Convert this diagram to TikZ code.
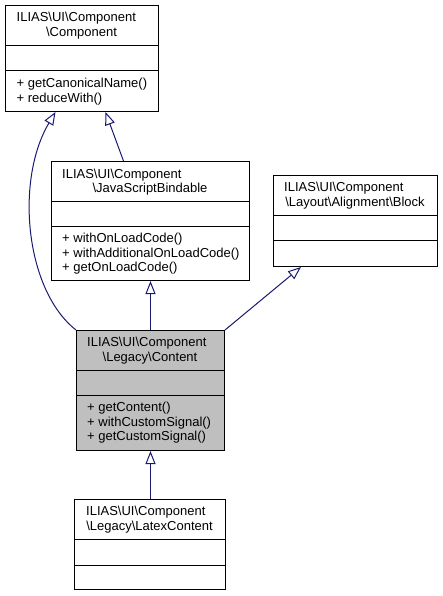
\documentclass[tikz,border=0pt]{standalone}
\usepackage{fontspec}
\setmainfont{Liberation Sans}
\usetikzlibrary{arrows.meta}
\definecolor{edgeblue}{HTML}{191970}
\definecolor{classgray}{HTML}{BFBFBF}
\newcommand{\ns}{\textbackslash}
\tikzset{
  classbox/.style={draw=black, line width=1pt, fill=white, anchor=north west, inner sep=0pt},
  current/.style={classbox, fill=classgray},
  divider/.style={draw=black, line width=1pt},
  txt/.style={inner sep=0pt, font=\fontsize{13}{14.5}\selectfont},
  inherit/.style={draw=edgeblue, line width=1pt, -{Triangle[open, fill=white, length=13pt, width=10pt]}}
}
\begin{document}
\begin{tikzpicture}[x=1pt, y=-1pt]
  \useasboundingbox (0,0) rectangle (443,596);
  % class boxes
  \node[classbox, minimum width=153pt, minimum height=106pt] (comp) at (5,5) {};
  \node[classbox, minimum width=198pt, minimum height=119pt] (jsb) at (51,161) {};
  \node[classbox, minimum width=164pt, minimum height=91pt] (block) at (273,175) {};
  \node[current, minimum width=148pt, minimum height=120pt] (content) at (76,330) {};
  \node[classbox, minimum width=151pt, minimum height=90pt] (latex) at (74,499) {};
  \foreach \l/\r/\y in {5/158/46, 5/158/71, 51/249/201, 51/249/226, 273/437/215, 273/437/240,
      76/224/370, 76/224/395, 74/225/539, 74/225/565}
    \draw[divider] (\l,\y) -- (\r,\y);
  % names
  \node[txt, anchor=base west] (comp-t1) at (16.5,22) {ILIAS\ns{}UI\ns{}Component};
  \node[txt, anchor=base] (comp-t2) at (81.5,36.5) {\ns{}Component};
  \node[txt, anchor=base west] (jsb-t1) at (62,178) {ILIAS\ns{}UI\ns{}Component};
  \node[txt, anchor=base] (jsb-t2) at (150,192) {\ns{}JavaScriptBindable};
  \node[txt, anchor=base west] (block-t1) at (284,191.5) {ILIAS\ns{}UI\ns{}Component};
  \node[txt, anchor=base] (block-t2) at (355,206) {\ns{}Layout\ns{}Alignment\ns{}Block};
  \node[txt, anchor=base west] (content-t1) at (87,346.8) {ILIAS\ns{}UI\ns{}Component};
  \node[txt, anchor=base] (content-t2) at (150,361) {\ns{}Legacy\ns{}Content};
  \node[txt, anchor=base west] (latex-t1) at (86,515.5) {ILIAS\ns{}UI\ns{}Component};
  \node[txt, anchor=base] (latex-t2) at (149.5,530) {\ns{}Legacy\ns{}LatexContent};
  % methods
  \foreach \m [count=\i] in {getCanonicalName(), reduceWith()}
    \node[txt, anchor=base west] (comp-m\i) at (16.5,{71+16.7+14.5*(\i-1)}) {+ \m};
  \foreach \m [count=\i] in {withOnLoadCode(), withAdditionalOnLoadCode(), getOnLoadCode()}
    \node[txt, anchor=base west] (jsb-m\i) at (62,{226+16.7+14.5*(\i-1)}) {+ \m};
  \foreach \m [count=\i] in {getContent(), withCustomSignal(), getCustomSignal()}
    \node[txt, anchor=base west] (content-m\i) at (87,{395+16.2+14.8*(\i-1)}) {+ \m};
  % inheritance
  \draw[inherit] (content.north west) .. controls (25,290) and (15,180) .. ([xshift=-26.5pt]comp.south);
  \draw[inherit] ([xshift=-27pt]jsb.north) -- ([xshift=23.5pt]comp.south);
  \draw[inherit] (content.north) -- (jsb.south);
  \draw[inherit] (content.north east) -- ([xshift=-54.5pt]block.south);
  \draw[inherit] (latex.north -| content.south) -- (content.south);
\end{tikzpicture}
\end{document}
